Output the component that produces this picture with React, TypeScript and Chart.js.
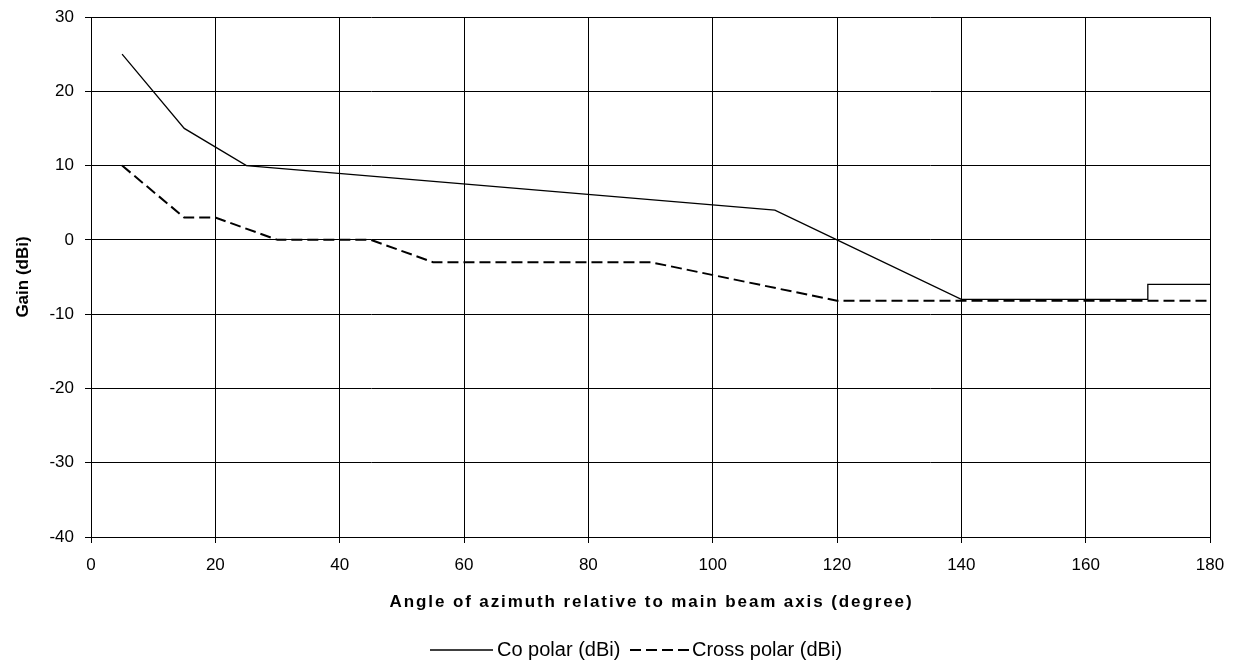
import React, { useEffect, useRef } from "react";
import { Chart, registerables } from "chart.js";

Chart.register(...registerables);

const CO_X = [5, 15, 25, 110, 120, 140, 170, 170, 180];
const CO_Y = [25, 15, 10, 4, 0, -8, -8, -6, -6];
const CROSS_X = [5, 15, 20, 30, 45, 55, 90, 120, 180];
const CROSS_Y = [10, 3, 3, 0, 0, -3, -3, -8.2, -8.2];
const X_TICKS = [0, 20, 40, 60, 80, 100, 120, 140, 160, 180];
const Y_TICKS = [-40, -30, -20, -10, 0, 10, 20, 30];
const SERIES_NAMES = ["Co polar (dBi)", "Cross polar (dBi)"];
const X_TITLE = "Angle of azimuth relative to main beam axis (degree)";
const Y_TITLE = "Gain (dBi)";

const FONT_FAMILY = '"Liberation Sans", Arial, sans-serif';
const CROSS_DASH = [11, 5];

const overlay = {
  id: "overlay",
  afterDraw(chart: any) {
    const ctx = chart.ctx as CanvasRenderingContext2D;
    const area = chart.chartArea;
    ctx.save();
    ctx.fillStyle = "#000";
    ctx.strokeStyle = "#000";
    // X title
    ctx.font = `bold 17px ${FONT_FAMILY}`;
    (ctx as any).letterSpacing = "1.9px";
    ctx.textAlign = "center";
    ctx.textBaseline = "middle";
    ctx.fillText(X_TITLE, (area.left + area.right) / 2 + 1, 602);
    (ctx as any).letterSpacing = "0px";
    // Y title
    ctx.save();
    ctx.translate(23, (area.top + area.bottom) / 2);
    ctx.rotate(-Math.PI / 2);
    ctx.font = `bold 17px ${FONT_FAMILY}`;
    ctx.fillText(Y_TITLE, 0, 0);
    ctx.restore();
    // Legend
    const ly = 650;
    ctx.font = `20px ${FONT_FAMILY}`;
    ctx.textAlign = "left";
    ctx.lineWidth = 1.3;
    ctx.setLineDash([]);
    ctx.beginPath();
    ctx.moveTo(430, ly);
    ctx.lineTo(493, ly);
    ctx.stroke();
    ctx.fillText(SERIES_NAMES[0], 497, ly);
    ctx.lineWidth = 2;
    ctx.setLineDash(CROSS_DASH);
    ctx.beginPath();
    ctx.moveTo(630, ly);
    ctx.lineTo(691, ly);
    ctx.stroke();
    ctx.setLineDash([]);
    ctx.fillText(SERIES_NAMES[1], 692, ly);
    ctx.restore();
  },
};

export default function App() {
  const canvasRef = useRef<HTMLCanvasElement | null>(null);

  useEffect(() => {
    if (!canvasRef.current) return;
    const tickFont = { family: FONT_FAMILY, size: 17 };
    const chart = new Chart(canvasRef.current, {
      type: "line",
      data: {
        datasets: [
          {
            label: SERIES_NAMES[0],
            data: CO_X.map((x, i) => ({ x, y: CO_Y[i] })),
            borderColor: "#000",
            borderWidth: 1.3,
            pointRadius: 0,
            tension: 0,
            fill: false,
          },
          {
            label: SERIES_NAMES[1],
            data: CROSS_X.map((x, i) => ({ x, y: CROSS_Y[i] })),
            borderColor: "#000",
            borderWidth: 2,
            borderDash: CROSS_DASH,
            pointRadius: 0,
            tension: 0,
            fill: false,
          },
        ],
      },
      options: {
        animation: false,
        responsive: true,
        maintainAspectRatio: false,
        layout: { padding: { top: 17, right: 26, left: 0, bottom: 0 } },
        plugins: {
          legend: { display: false },
          tooltip: { enabled: false },
        },
        scales: {
          x: {
            type: "linear",
            min: 0,
            max: 180,
            afterBuildTicks: (s: any) => {
              s.ticks = X_TICKS.map((v) => ({ value: v }));
            },
            afterFit: (s: any) => {
              s.height = 127;
              s.paddingLeft = 0;
              s.paddingRight = 0;
            },
            ticks: { font: tickFont, color: "#000", padding: 12, maxRotation: 0, autoSkip: false },
            grid: { color: "#000", lineWidth: 1, tickLength: 6 },
            border: { color: "#000", width: 1 },
          },
          y: {
            type: "linear",
            min: -40,
            max: 30,
            afterBuildTicks: (s: any) => {
              s.ticks = Y_TICKS.map((v) => ({ value: v }));
            },
            afterFit: (s: any) => {
              s.width = 91;
              s.paddingTop = 0;
              s.paddingBottom = 0;
            },
            ticks: { font: tickFont, color: "#000", padding: 11, autoSkip: false },
            grid: { color: "#000", lineWidth: 1, tickLength: 6 },
            border: { color: "#000", width: 1 },
          },
        },
      },
      plugins: [overlay],
    });
    return () => chart.destroy();
  }, []);

  return (
    <div style={{ position: "fixed", left: 0, top: 0, width: 1236, height: 664, background: "#fff" }}>
      <canvas ref={canvasRef} />
    </div>
  );
}
